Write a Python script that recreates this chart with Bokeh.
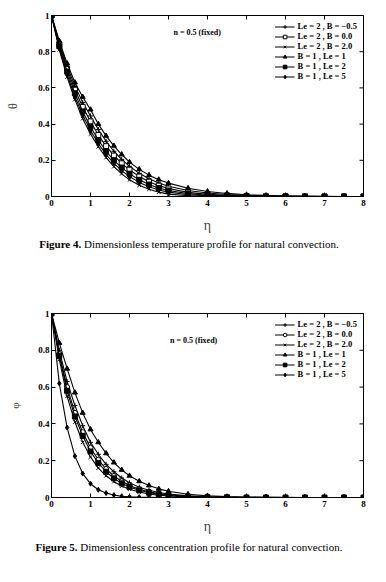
import math
from bokeh.plotting import figure
from bokeh.models import FixedTicker, Label, Div, Range1d
from bokeh.layouts import column
from bokeh.embed import file_html
from bokeh.resources import INLINE

# ---------------- data ----------------
eta = [0, 0.2, 0.4, 0.6, 0.8, 1.0, 1.2, 1.4, 1.6, 1.8, 2.0, 2.25, 2.5, 2.75, 3.0,
       3.5, 4.0, 4.5, 5.0, 5.5, 6.0, 6.5, 7.0, 7.5, 8.0]

series_labels = ["Le = 2 , B = \u22120.5", "Le = 2 , B = 0.0", "Le = 2 , B = 2.0",
                 "B = 1 , Le = 1", "B = 1 , Le = 2", "B = 1 , Le = 5"]

# Figure 4: temperature theta
theta_le2_bm05 = [1, .85, .72, .61, .52, .445, .37, .305, .25, .205, .167, .128, .098, .075, .057,
                  .033, .019, .011, .006, .003, .002, .001, 0, 0, 0]
theta_le2_b00 = [1, .84, .705, .59, .495, .415, .34, .278, .226, .183, .148, .11, .082, .06, .044,
                 .023, .012, .006, .003, .001, .001, 0, 0, 0, 0]
theta_le2_b20 = [1, .81, .66, .535, .43, .345, .275, .215, .165, .125, .092, .062, .04, .024, .013,
                 .004, .001, 0, 0, 0, 0, 0, 0, 0, 0]
theta_b1_le1 = [1, .86, .735, .63, .55, .48, .40, .335, .28, .232, .19, .15, .118, .093, .074,
                .046, .028, .017, .01, .006, .003, .002, .001, 0, 0]
theta_b1_le2 = [1, .83, .69, .57, .47, .385, .312, .25, .2, .16, .126, .092, .066, .047, .033,
                .016, .007, .003, .001, 0, 0, 0, 0, 0, 0]
theta_b1_le5 = [1, .82, .675, .55, .45, .365, .292, .232, .183, .143, .11, .078, .054, .036, .024,
                .01, .004, .001, 0, 0, 0, 0, 0, 0, 0]

# Figure 5: concentration phi
phi_le2_bm05 = [1, .80, .63, .50, .39, .30, .235, .18, .14, .106, .08, .056, .039, .027, .019,
                .009, .004, .002, .001, 0, 0, 0, 0, 0, 0]
phi_le2_b00 = [1, .78, .60, .46, .355, .27, .205, .155, .117, .088, .065, .045, .031, .021, .014,
               .006, .003, .001, 0, 0, 0, 0, 0, 0, 0]
phi_le2_b20 = [1, .75, .55, .41, .30, .22, .16, .118, .086, .062, .045, .03, .019, .012, .008,
               .003, .001, 0, 0, 0, 0, 0, 0, 0, 0]
phi_b1_le1 = [1, .84, .70, .57, .46, .37, .30, .24, .19, .15, .118, .088, .065, .047, .034,
              .018, .009, .005, .003, .002, .001, 0, 0, 0, 0]
phi_b1_le2 = [1, .77, .58, .44, .335, .25, .188, .14, .104, .077, .057, .039, .026, .017, .011,
              .005, .002, .001, 0, 0, 0, 0, 0, 0, 0]
phi_b1_le5 = [1, .62, .38, .225, .13, .075, .042, .024, .013, .007, .004, .002, .001, 0, 0,
              0, 0, 0, 0, 0, 0, 0, 0, 0, 0]

x_ticks = [0, 1, 2, 3, 4, 5, 6, 7, 8]
y_ticks = [0, 0.2, 0.4, 0.6, 0.8, 1]
y_tick_labels = {0: "0", 0.2: "0.2", 0.4: "0.4", 0.6: "0.6", 0.8: "0.8", 1: "1"}
x_max = 8
y_max = 1

SERIF = "Liberation Serif"


def style_axis(ax, label_standoff):
    ax.axis_line_color = "black"
    ax.major_tick_line_color = "black"
    ax.major_tick_in = 4
    ax.major_tick_out = 0
    ax.minor_tick_line_color = None
    ax.major_label_text_font = SERIF
    ax.major_label_text_font_style = "bold"
    ax.major_label_text_color = "black"
    ax.major_label_text_font_size = "9px"
    ax.major_label_standoff = label_standoff


def make_fig(series, markers, ylabel, note, min_top, min_left, frame_h, ylab_standoff, ylab_size):
    p = figure(width=378, height=min_top + frame_h + 40, output_backend="svg",
               toolbar_location=None, x_range=Range1d(0, x_max), y_range=Range1d(0, y_max),
               min_border_top=min_top, min_border_left=min_left,
               min_border_right=15, min_border_bottom=40)
    p.background_fill_color = "white"
    p.border_fill_color = "white"
    p.outline_line_color = "black"
    p.outline_line_width = 1
    p.grid.visible = False

    xa = p.xaxis[0]
    ya = p.yaxis[0]
    xa.ticker = FixedTicker(ticks=x_ticks)
    ya.ticker = FixedTicker(ticks=y_ticks)
    ya.major_label_overrides = y_tick_labels
    style_axis(xa, 3)
    style_axis(ya, 2)
    xa.axis_label = "\u03b7"
    xa.axis_label_text_font = SERIF
    xa.axis_label_text_font_style = "normal"
    xa.axis_label_text_font_size = "14px"
    xa.axis_label_standoff = 9
    ya.axis_label = ylabel
    ya.axis_label_text_font = SERIF
    ya.axis_label_text_font_style = "normal"
    ya.axis_label_text_font_size = ylab_size
    ya.axis_label_standoff = ylab_standoff

    # mirrored inward ticks on the top and right edges (clipped half-dashes)
    p.scatter(x_ticks, [y_max] * len(x_ticks), marker="dash", angle=math.pi / 2,
              size=8, line_color="black", line_width=1)
    p.scatter([x_max] * len(y_ticks), y_ticks, marker="dash",
              size=8, line_color="black", line_width=1)

    for (vals, lab), (mk, filled) in zip(series, markers):
        p.line(eta, vals, line_color="black", line_width=1.1, legend_label=lab)
        p.scatter(eta, vals, marker=mk, size=5, line_color="black", line_width=1,
                  fill_color="black" if filled else "white", legend_label=lab)

    lg = p.legend[0]
    lg.location = "top_right"
    lg.label_text_font = SERIF
    lg.label_text_font_style = "bold"
    lg.label_text_font_size = "8.5px"
    lg.label_text_color = "black"
    lg.border_line_color = None
    lg.background_fill_alpha = 0
    lg.glyph_width = 20
    lg.glyph_height = 9
    lg.label_height = 9
    lg.spacing = 0
    lg.padding = 2
    lg.margin = 6
    lg.label_standoff = 3

    p.add_layout(Label(x=note[0], y=note[1], text=note[2], text_font=SERIF,
                       text_font_size="8px", text_font_style="bold", text_color="black",
                       text_baseline="middle", text_align="left"))
    return p


fig4_series = list(zip([theta_le2_bm05, theta_le2_b00, theta_le2_b20,
                        theta_b1_le1, theta_b1_le2, theta_b1_le5], series_labels))
fig4_markers = [("cross", False), ("square", False), ("x", False),
                ("triangle", True), ("square", True), ("diamond", True)]
fig5_series = list(zip([phi_le2_bm05, phi_le2_b00, phi_le2_b20,
                        phi_b1_le1, phi_b1_le2, phi_b1_le5], series_labels))
fig5_markers = [("cross", False), ("circle", False), ("x", False),
                ("triangle", True), ("square", True), ("diamond", True)]

p1 = make_fig(fig4_series, fig4_markers, "\u03b8", (3.13, 0.906, "n = 0.5 (fixed)"),
              min_top=15, min_left=51, frame_h=181, ylab_standoff=15, ylab_size="12px")
p2 = make_fig(fig5_series, fig5_markers, "\u03c6", (3.04, 0.853, "n = 0.5 (fixed)"),
              min_top=55, min_left=47, frame_h=184, ylab_standoff=14, ylab_size="11px")

cap_style = ("width:378px;text-align:center;font-family:'Liberation Serif';"
             "font-size:11px;color:black;line-height:13px;")
cap1 = Div(text='<div style="' + cap_style + 'padding-top:2px;"><b>Figure 4.</b> '
           'Dimensionless temperature profile for natural convection.</div>',
           width=378, height=22, margin=(0, 0, 0, 0))
cap2 = Div(text='<div style="' + cap_style + 'padding-top:4px;"><b>Figure 5.</b> '
           'Dimensionless concentration profile for natural convection.</div>',
           width=378, height=22, margin=(0, 0, 0, 0))

layout = column(p1, cap1, p2, cap2, spacing=0)
open("out.html", "w").write(file_html(layout, INLINE))
